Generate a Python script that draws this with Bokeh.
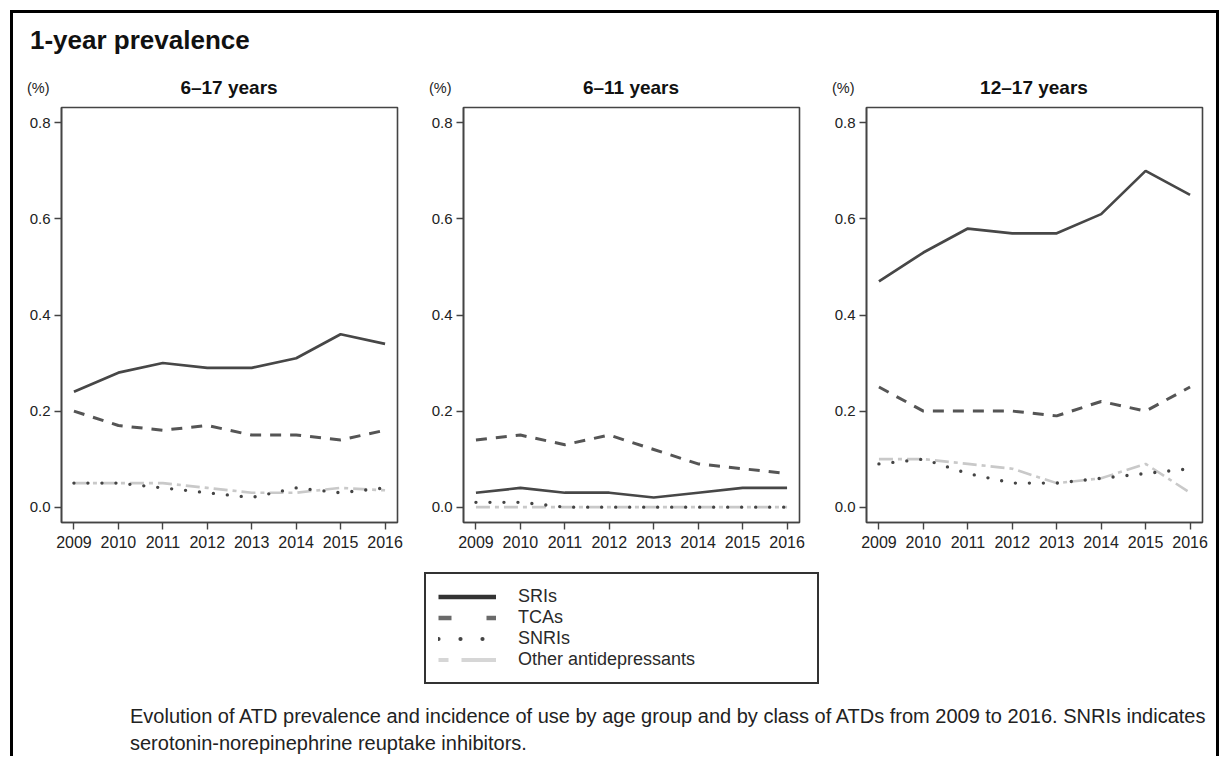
from bokeh.plotting import figure
from bokeh.layouts import column, row
from bokeh.models import (Div, Legend, LegendItem, FixedTicker, Range1d,
                          NumeralTickFormatter, Spacer)
from bokeh.embed import file_html
from bokeh.resources import INLINE

years = [2009, 2010, 2011, 2012, 2013, 2014, 2015, 2016]
panel_titles = ["6\u201317 years", "6\u201311 years", "12\u201317 years"]
series_names = ["SRIs", "TCAs", "SNRIs", "Other antidepressants"]
y_ticks = [0.0, 0.2, 0.4, 0.6, 0.8]
unit_label = "(%)"

# 6-17 years
sri_6_17 = [0.24, 0.28, 0.30, 0.29, 0.29, 0.31, 0.36, 0.34]
tca_6_17 = [0.20, 0.17, 0.16, 0.17, 0.15, 0.15, 0.14, 0.16]
snri_6_17 = [0.05, 0.05, 0.04, 0.03, 0.02, 0.04, 0.03, 0.04]
other_6_17 = [0.05, 0.05, 0.05, 0.04, 0.03, 0.03, 0.04, 0.035]
# 6-11 years
sri_6_11 = [0.03, 0.04, 0.03, 0.03, 0.02, 0.03, 0.04, 0.04]
tca_6_11 = [0.14, 0.15, 0.13, 0.15, 0.12, 0.09, 0.08, 0.07]
snri_6_11 = [0.01, 0.01, 0.00, 0.00, 0.00, 0.00, 0.00, 0.00]
other_6_11 = [0.00, 0.00, 0.00, 0.00, 0.00, 0.00, 0.00, 0.00]
# 12-17 years
sri_12_17 = [0.47, 0.53, 0.58, 0.57, 0.57, 0.61, 0.70, 0.65]
tca_12_17 = [0.25, 0.20, 0.20, 0.20, 0.19, 0.22, 0.20, 0.25]
snri_12_17 = [0.09, 0.10, 0.07, 0.05, 0.05, 0.06, 0.07, 0.08]
other_12_17 = [0.10, 0.10, 0.09, 0.08, 0.05, 0.06, 0.09, 0.03]

panel_data = [
    (sri_6_17, tca_6_17, snri_6_17, other_6_17),
    (sri_6_11, tca_6_11, snri_6_11, other_6_11),
    (sri_12_17, tca_12_17, snri_12_17, other_12_17),
]

FONT = "Liberation Sans"
styles = {
    "SRIs": dict(line_color="#474747", line_width=2.7),
    "TCAs": dict(line_color="#555555", line_width=3.0, line_dash="11 9"),
    "SNRIs": dict(line_color="#444444", line_width=3.4, line_dash="0 14", line_cap="round"),
    "Other antidepressants": dict(line_color="#c9c9c9", line_width=2.6, line_dash="14 5 4 5"),
}
legend_styles = {
    "SRIs": dict(line_color="#333333", line_width=4.5),
    "TCAs": dict(line_color="#6a6a6a", line_width=4.5, line_dash="13 35"),
    "SNRIs": dict(line_color="#444444", line_width=4.2, line_dash="0 22", line_cap="round"),
    "Other antidepressants": dict(line_color="#d6d6d6", line_width=4.0, line_dash="10 13 35 13"),
}

X0, X1 = 2008.72, 2016.28
Y0, Y1 = -0.032, 0.832
borders = [(48, 30), (36, 31), (36, 14)]  # left, right
FRAME_W, FRAME_H = 336, 415
TOP, BOTTOM = 4, 40
HEADER_H = 33

plots = []
headers = []
for i, (title, data) in enumerate(zip(panel_titles, panel_data)):
    left, right = borders[i]
    p = figure(frame_width=FRAME_W, frame_height=FRAME_H,
               x_range=Range1d(X0, X1), y_range=Range1d(Y0, Y1),
               output_backend="svg", toolbar_location=None,
               min_border_left=left, min_border_right=right,
               min_border_top=TOP, min_border_bottom=BOTTOM)
    p.xgrid.visible = False
    p.ygrid.visible = False
    p.outline_line_color = "#444444"
    p.outline_line_width = 1.6
    p.background_fill_color = "white"
    p.border_fill_color = "white"

    p.xaxis.ticker = FixedTicker(ticks=years)
    p.yaxis.ticker = FixedTicker(ticks=y_ticks)
    p.yaxis.formatter = NumeralTickFormatter(format="0.0")
    for ax in (p.xaxis, p.yaxis):
        ax.axis_line_color = "#444444"
        ax.axis_line_width = 1.6
        ax.major_tick_line_color = "#444444"
        ax.major_tick_line_width = 1.4
        ax.major_tick_out = 7
        ax.major_tick_in = 0
        ax.minor_tick_line_color = None
        ax.major_label_text_font = FONT
        ax.major_label_text_color = "#222222"
    p.xaxis.major_label_text_font_size = "16px"
    p.yaxis.major_label_text_font_size = "15px"
    p.xaxis.major_label_standoff = 6
    p.yaxis.major_label_standoff = 4

    for k in [3, 2, 1, 0]:
        name = series_names[k]
        p.line(years, data[k], **styles[name])
    plots.append(p)

    w = left + FRAME_W + right
    headers.append(Div(
        text=(f'<div style="position:relative;width:{w}px;height:{HEADER_H}px;'
              f'font-family:\'Liberation Sans\',Arial,sans-serif;color:#111;">'
              f'<span style="position:absolute;left:{left - 34}px;top:10px;font-size:14.5px;'
              f'line-height:16px;color:#222;">{unit_label}</span>'
              f'<span style="position:absolute;left:{left}px;width:{FRAME_W}px;top:7px;'
              f'text-align:center;font-size:19px;line-height:22px;font-weight:bold;">{title}</span>'
              f'</div>'),
        width=w, height=HEADER_H, margin=(0, 0, 0, 0)))

# legend as its own small figure (lines sit outside its visible range)
lf = figure(frame_width=404, frame_height=118, x_range=Range1d(X0, X1), y_range=Range1d(5, 6),
            output_backend="svg", toolbar_location=None,
            x_axis_location=None, y_axis_location=None,
            min_border_left=0, min_border_right=0, min_border_top=9, min_border_bottom=1)
lf.xgrid.visible = False
lf.ygrid.visible = False
lf.outline_line_color = None
lf.border_fill_color = None
lf.background_fill_color = None
items = []
for k, name in enumerate(series_names):
    r = lf.line(years, panel_data[0][k], **legend_styles[name])
    items.append(LegendItem(label=name, renderers=[r]))
legend = Legend(items=items, location="top_left", orientation="vertical",
                glyph_width=58, glyph_height=21, label_height=21, label_width=287,
                label_standoff=22, padding=12, spacing=0, margin=1,
                border_line_color="#333333", border_line_width=2, border_line_alpha=1.0,
                label_text_font=FONT, label_text_font_size="18px",
                label_text_color="#2a2a2a", background_fill_color="white",
                background_fill_alpha=1.0)
lf.add_layout(legend, "center")

title_div = Div(text='<div style="font-family:\'Liberation Sans\',Arial,sans-serif;'
                     'font-size:26px;font-weight:bold;color:#111;line-height:30px;'
                     'padding-left:17px;padding-top:12px;white-space:nowrap;">1-year prevalence</div>',
                width=1203, height=57, margin=(0, 0, 0, 0))

caption_div = Div(text='<div style="font-family:\'Liberation Sans\',Arial,sans-serif;'
                       'font-size:20px;line-height:27px;color:#222;padding-left:117px;padding-top:13px;'
                       'white-space:nowrap;">'
                       'Evolution of ATD prevalence and incidence of use by age group and by class of ATDs '
                       'from 2009 to 2016. SNRIs indicates<br>serotonin-norepinephrine reuptake inhibitors.</div>',
                  width=1203, height=66, margin=(0, 0, 0, 0))

layout = column(title_div, row(*headers), row(*plots),
                row(Spacer(width=410, height=10), lf), caption_div,
                margin=(10, 0, 0, 10),
                styles={"border-left": "3px solid #000", "border-top": "3px solid #000",
                        "border-right": "3px solid #000"})

open("out.html", "w").write(file_html(layout, INLINE))
